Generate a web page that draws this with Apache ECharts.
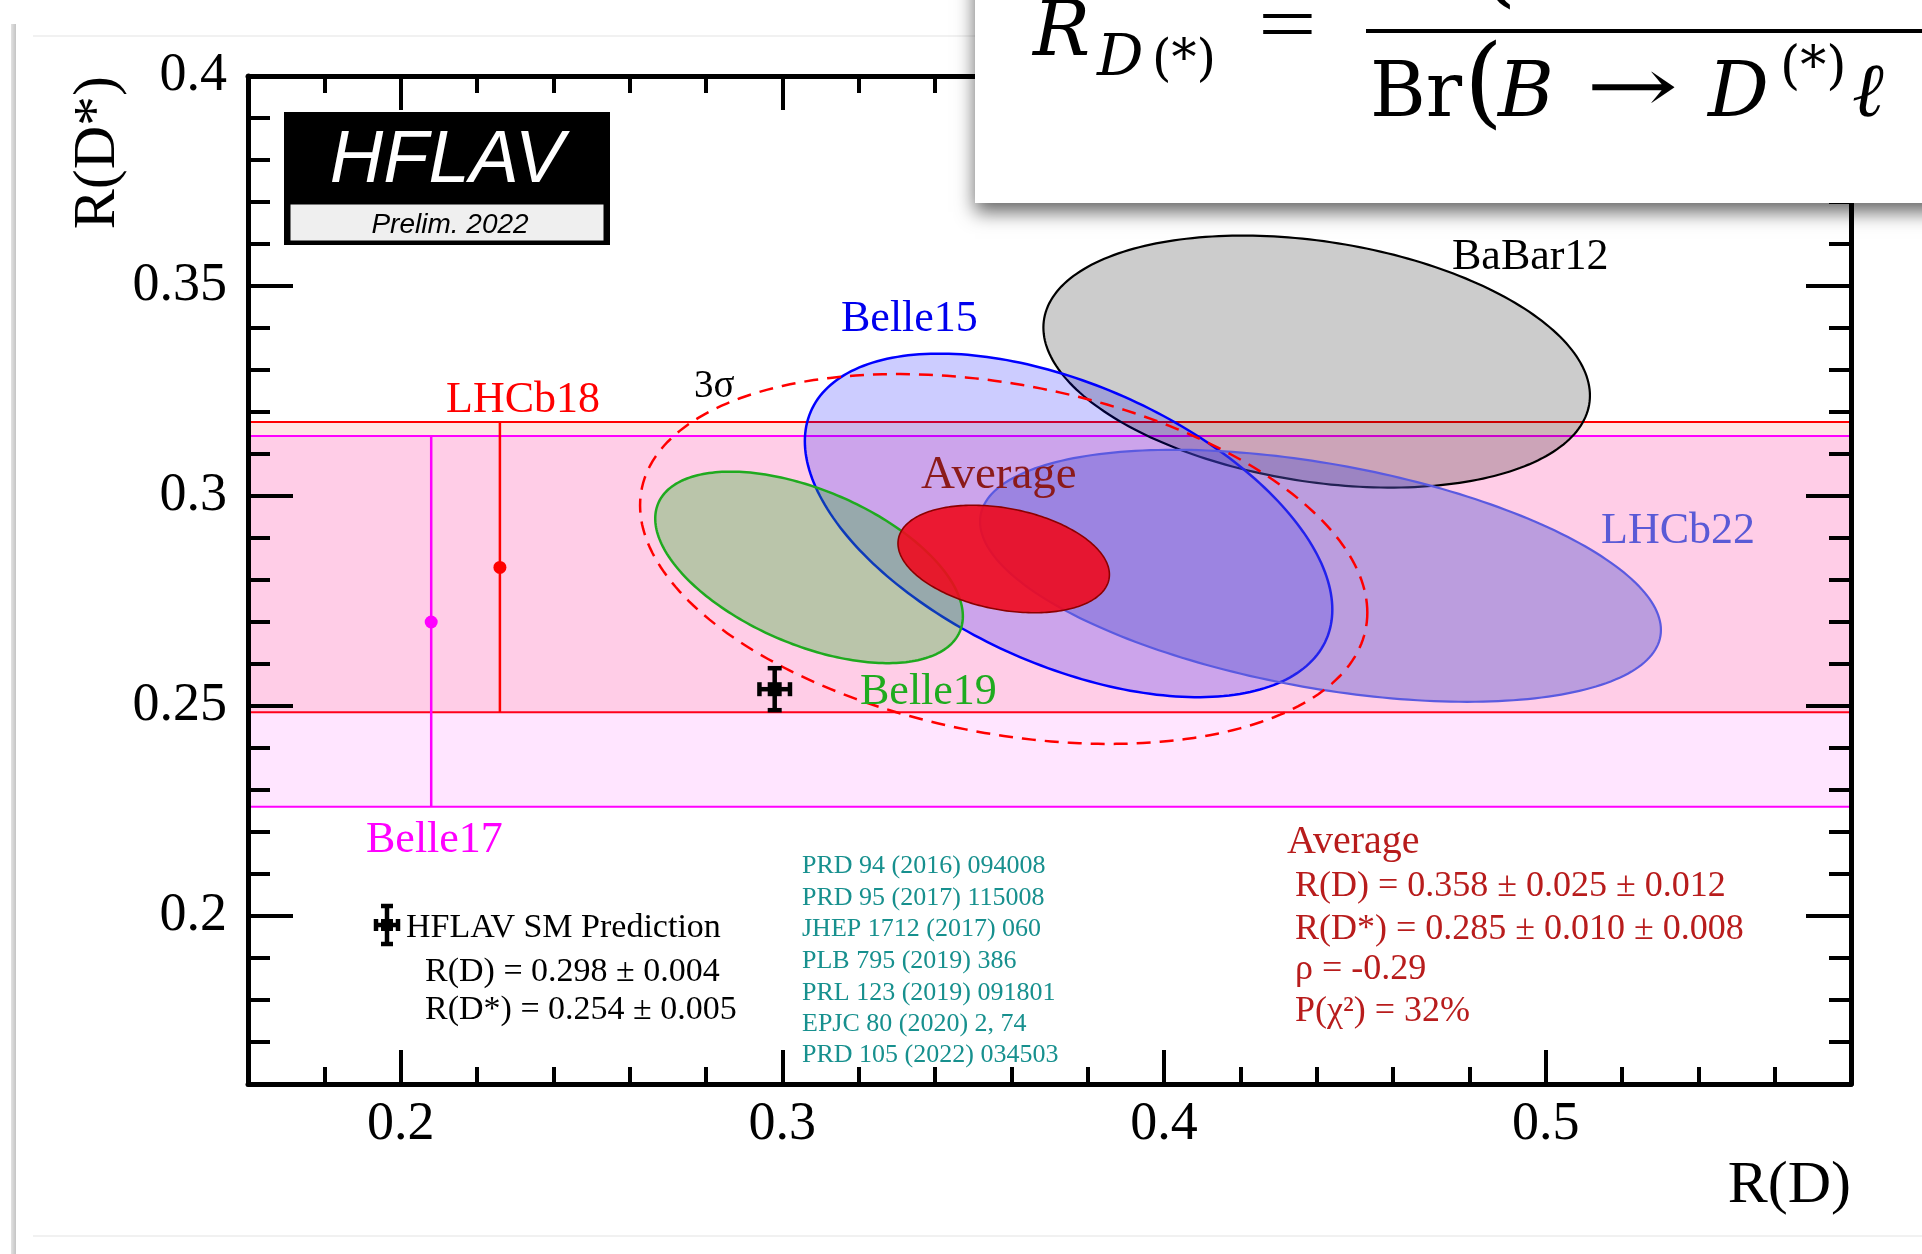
<!DOCTYPE html>
<html><head><meta charset="utf-8">
<script src="https://cdn.jsdelivr.net/npm/echarts@6/dist/echarts.min.js"></script>
<style>html,body{margin:0;padding:0;background:#fff}#c{width:1922px;height:1254px}</style>
</head><body><div id="c"></div>
<script>
// ---------------- data ----------------
const xRange = [0.16, 0.58];
const yRange = [0.16, 0.40];
const xMajorTicks = [0.2, 0.3, 0.4, 0.5];
const yMajorTicks = [0.2, 0.25, 0.3, 0.35, 0.4];

// 2D measurements (Δχ²=1 contours): R(D), R(D*), total sigmas, correlation
const ellipseNames = ['BaBar12', 'Belle15', 'LHCb22', 'Belle19', 'Average'];
const ellipseRD    = [0.440, 0.375, 0.441, 0.307, 0.358];
const ellipseRDs   = [0.332, 0.293, 0.281, 0.283, 0.285];
const ellipseSigRD = [0.0716, 0.0691, 0.0892, 0.0403, 0.0277];
const ellipseSigRDs= [0.0300, 0.0409, 0.0300, 0.0228, 0.0128];
const ellipseRho   = [-0.27, -0.49, -0.43, -0.51, -0.29];
const threeSigmaChi2 = 11.83;   // Δχ² of the dashed 3σ contour of the average

// R(D*)-only measurements (bands)
const bandNames = ['LHCb18', 'Belle17'];
const bandRD    = [0.226, 0.208];     // x position of the marker
const bandVal   = [0.283, 0.270];
const bandLo    = [0.2485, 0.2260];
const bandHi    = [0.3176, 0.3143];

// SM prediction
const smRD = [0.298, 0.004];
const smRDs = [0.254, 0.005];

const refLines = ['PRD 94 (2016) 094008', 'PRD 95 (2017) 115008', 'JHEP 1712 (2017) 060',
  'PLB 795 (2019) 386', 'PRL 123 (2019) 091801', 'EPJC 80 (2020) 2, 74', 'PRD 105 (2022) 034503'];
const avgLines = ['R(D) = 0.358 ± 0.025 ± 0.012', 'R(D*) = 0.285 ± 0.010 ± 0.008', 'ρ = -0.29', 'P(χ²) = 32%'];
const smLines = ['R(D) = 0.298 ± 0.004', 'R(D*) = 0.254 ± 0.005'];

// ---------------- styles ----------------
const SERIF = '"Liberation Serif","DejaVu Serif",serif';
const SANS = '"Liberation Sans",Arial,sans-serif';
const ellipseStyles = [
  { fill: 'rgba(0,0,0,0.2)', stroke: '#000000', lineWidth: 2.2 },
  { fill: 'rgba(0,0,255,0.2)', stroke: '#0000ff', lineWidth: 2.5 },
  { fill: 'rgba(84,84,210,0.4)', stroke: '#5a5ae0', lineWidth: 2.2 },
  { fill: 'rgba(40,180,40,0.32)', stroke: '#1faa1f', lineWidth: 2.5 },
  { fill: 'rgba(238,10,30,0.9)', stroke: '#8b0000', lineWidth: 1.6 }
];
const bandColors = [['rgba(255,0,0,0.1)', '#ff0000'], ['rgba(255,0,255,0.1)', '#ff00ff']];

function ellipseSeries(i, k, style, z) {
  return {
    type: 'custom', coordinateSystem: 'cartesian2d', xAxisIndex: 0, yAxisIndex: 0, z: z,
    data: [[ellipseRD[i], ellipseRDs[i]]], silent: true,
    renderItem: function (params, api) {
      const pts = [];
      const s = Math.sqrt(k), rho = ellipseRho[i];
      for (let j = 0; j <= 240; j++) {
        const t = j / 240 * 2 * Math.PI;
        const u = s * Math.cos(t), v = s * Math.sin(t);
        const x = ellipseRD[i] + ellipseSigRD[i] * u;
        const y = ellipseRDs[i] + ellipseSigRDs[i] * (rho * u + Math.sqrt(1 - rho * rho) * v);
        pts.push(api.coord([x, y]));
      }
      return { type: 'polygon', shape: { points: pts }, style: style };
    }
  };
}

const series = [];
// bands
bandNames.forEach(function (n, i) {
  series.push({
    type: 'custom', coordinateSystem: 'cartesian2d', xAxisIndex: 0, yAxisIndex: 0, z: 2, silent: true,
    data: [[bandRD[i], bandVal[i]]],
    renderItem: function (params, api) {
      const cs = params.coordSys;
      const yt = api.coord([bandRD[i], bandHi[i]])[1];
      const yb = api.coord([bandRD[i], bandLo[i]])[1];
      return { type: 'group', children: [
        { type: 'rect', shape: { x: cs.x, y: yt, width: cs.width, height: yb - yt }, style: { fill: bandColors[i][0] } },
        { type: 'line', shape: { x1: cs.x, y1: yt, x2: cs.x + cs.width, y2: yt }, style: { stroke: bandColors[i][1], lineWidth: 2 } },
        { type: 'line', shape: { x1: cs.x, y1: yb, x2: cs.x + cs.width, y2: yb }, style: { stroke: bandColors[i][1], lineWidth: 2 } }
      ] };
    }
  });
});
// band error bars
bandNames.forEach(function (n, i) {
  series.push({
    type: 'custom', coordinateSystem: 'cartesian2d', xAxisIndex: 0, yAxisIndex: 0, z: 3, silent: true,
    data: [[bandRD[i], bandVal[i]]],
    renderItem: function (params, api) {
      const t = api.coord([bandRD[i], bandHi[i]]);
      const b = api.coord([bandRD[i], bandLo[i]]);
      const c = api.coord([bandRD[i], bandVal[i]]);
      return { type: 'group', children: [
        { type: 'line', shape: { x1: t[0], y1: t[1], x2: b[0], y2: b[1] }, style: { stroke: bandColors[i][1], lineWidth: 2.5 } },
        { type: 'circle', shape: { cx: c[0], cy: c[1], r: 6.5 }, style: { fill: bandColors[i][1] } }
      ] };
    }
  });
});
// ellipses
for (let i = 0; i < ellipseNames.length; i++) series.push(ellipseSeries(i, 1, ellipseStyles[i], 4 + i));
series.push(ellipseSeries(4, threeSigmaChi2, { fill: 'none', stroke: '#ff0000', lineWidth: 2.5, lineDash: [14, 9] }, 10));
// SM prediction
series.push({
  type: 'custom', coordinateSystem: 'cartesian2d', xAxisIndex: 0, yAxisIndex: 0, z: 12, silent: true,
  data: [[smRD[0], smRDs[0]]],
  renderItem: function (params, api) {
    const c = api.coord([smRD[0], smRDs[0]]);
    const l = api.coord([smRD[0] - smRD[1], smRDs[0]]);
    const r = api.coord([smRD[0] + smRD[1], smRDs[0]]);
    const t = api.coord([smRD[0], smRDs[0] + smRDs[1]]);
    const b = api.coord([smRD[0], smRDs[0] - smRDs[1]]);
    const st = { stroke: '#000', lineWidth: 4.5 };
    return { type: 'group', children: [
      { type: 'line', shape: { x1: l[0], y1: l[1], x2: r[0], y2: r[1] }, style: st },
      { type: 'line', shape: { x1: t[0], y1: t[1], x2: b[0], y2: b[1] }, style: st },
      { type: 'line', shape: { x1: l[0], y1: l[1] - 7, x2: l[0], y2: l[1] + 7 }, style: st },
      { type: 'line', shape: { x1: r[0], y1: r[1] - 7, x2: r[0], y2: r[1] + 7 }, style: st },
      { type: 'line', shape: { x1: t[0] - 7, y1: t[1], x2: t[0] + 7, y2: t[1] }, style: st },
      { type: 'line', shape: { x1: b[0] - 7, y1: b[1], x2: b[0] + 7, y2: b[1] }, style: st },
      { type: 'rect', shape: { x: c[0] - 7, y: c[1] - 7, width: 14, height: 14 }, style: { fill: '#000' } }
    ] };
  }
});

// ---------------- axes ----------------
function fmt(v) { return String(+v.toFixed(2)); }
const axisLineStyle = { show: true, onZero: false, lineStyle: { color: '#000', width: 5 } };
function xAx(pos, major) {
  return {
    type: 'value', position: pos, min: xRange[0], max: xRange[1], z: 20,
    interval: major ? undefined : 0.02,
    axisLine: major ? axisLineStyle : { show: false, onZero: false },
    axisTick: major ? { show: true, inside: true, length: 34, lineStyle: { color: '#000', width: 4 }, customValues: xMajorTicks }
                    : { show: true, inside: true, length: 17, lineStyle: { color: '#000', width: 4 } },
    axisLabel: (major && pos === 'bottom') ? { show: true, customValues: xMajorTicks, formatter: fmt, margin: 14,
      fontFamily: SERIF, fontSize: 54, color: '#000' } : { show: false },
    splitLine: { show: false }
  };
}
function yAx(pos, major) {
  return {
    type: 'value', position: pos, min: yRange[0], max: yRange[1], z: 20,
    interval: major ? undefined : 0.01,
    axisLine: major ? axisLineStyle : { show: false, onZero: false },
    axisTick: major ? { show: true, inside: true, length: 45, lineStyle: { color: '#000', width: 4 }, customValues: yMajorTicks }
                    : { show: true, inside: true, length: 22, lineStyle: { color: '#000', width: 4 } },
    axisLabel: (major && pos === 'left') ? { show: true, customValues: yMajorTicks, formatter: fmt, margin: 21,
      fontFamily: SERIF, fontSize: 54, color: '#000' } : { show: false },
    splitLine: { show: false }
  };
}

// ---------------- graphics (text) ----------------
function txt(text, x, base, size, color, o) {
  o = o || {};
  const fam = o.family || SERIF;
  const align = o.align || 'left';
  const el = {
    type: 'text', x: x, y: base - 0.27 * size, z: o.z || 100, silent: true,
    style: { text: text, fill: color, fontSize: size, fontFamily: fam,
      fontStyle: o.italic ? 'italic' : 'normal',
      align: align, textAlign: align, verticalAlign: 'middle', textVerticalAlign: 'middle' }
  };
  if (o.scaleX) el.scaleX = o.scaleX;
  return el;
}

const g = [];
// slide frame decorations
g.push({ type: 'rect', z: 1, silent: true, shape: { x: 11, y: 24, width: 5, height: 1240 },
  style: { fill: new echarts.graphic.LinearGradient(0, 0, 1, 0, [{ offset: 0, color: '#e2e2e2' }, { offset: 1, color: '#c4c4c4' }]) } });
g.push({ type: 'line', z: 1, silent: true, shape: { x1: 33, y1: 36, x2: 975, y2: 36 }, style: { stroke: '#ededed', lineWidth: 1.5 } });
g.push({ type: 'line', z: 1, silent: true, shape: { x1: 33, y1: 1236, x2: 1922, y2: 1236 }, style: { stroke: '#ededed', lineWidth: 1.5 } });

// HFLAV logo
g.push({ type: 'rect', z: 100, silent: true, shape: { x: 284, y: 112, width: 326, height: 133 }, style: { fill: '#000' } });
g.push({ type: 'rect', z: 101, silent: true, shape: { x: 290, y: 204, width: 314, height: 37 }, style: { fill: '#efefef', stroke: '#000', lineWidth: 1 } });
g.push(txt('HFLAV', 447, 181, 74, '#fff', { family: SANS, italic: true, align: 'center', z: 102 }));
g.push(txt('Prelim. 2022', 450, 233, 28, '#000', { family: SANS, italic: true, align: 'center', z: 102 }));

// contour labels
g.push(txt('LHCb18', 446, 412, 44, '#ff0000'));
g.push(txt('Belle17', 366, 852, 44, '#ff00ff'));
g.push(txt('3σ', 694, 397, 39, '#000'));
g.push(txt('Belle15', 841, 331, 44, '#0000ee'));
g.push(txt('BaBar12', 1452, 269, 44, '#000'));
g.push(txt('LHCb22', 1601, 543, 44, '#5a5ad6'));
g.push(txt('Average', 921, 488, 47, '#8b1a1a'));
g.push(txt('Belle19', 860, 704, 44, '#1fab1f'));

// SM legend
(function () {
  const cx = 387, cy = 925, st = { stroke: '#000', lineWidth: 4.5 };
  const parts = [
    { x1: cx - 11, y1: cy, x2: cx + 11, y2: cy }, { x1: cx, y1: cy - 19, x2: cx, y2: cy + 19 },
    { x1: cx - 11, y1: cy - 6, x2: cx - 11, y2: cy + 6 }, { x1: cx + 11, y1: cy - 6, x2: cx + 11, y2: cy + 6 },
    { x1: cx - 6, y1: cy - 19, x2: cx + 6, y2: cy - 19 }, { x1: cx - 6, y1: cy + 19, x2: cx + 6, y2: cy + 19 }
  ];
  parts.forEach(function (p) { g.push({ type: 'line', z: 100, silent: true, shape: p, style: st }); });
  g.push({ type: 'rect', z: 100, silent: true, shape: { x: cx - 6, y: cy - 6, width: 12, height: 12 }, style: { fill: '#000' } });
})();
g.push(txt('HFLAV SM Prediction', 406, 937, 34, '#000'));
smLines.forEach(function (s, i) { g.push(txt(s, 425, [981, 1019][i], 34, '#000')); });

// references
const refBase = [873, 905, 936, 968, 1000, 1031, 1062];
refLines.forEach(function (s, i) { g.push(txt(s, 802, refBase[i], 26, '#17908e')); });

// average block
g.push(txt('Average', 1287, 853, 40, '#b81c1c'));
const avgBase = [896, 939, 979, 1021];
avgLines.forEach(function (s, i) { g.push(txt(s, 1295, avgBase[i], 36, '#b81c1c')); });

// axis titles
g.push(txt('R(D)', 1851, 1202, 60, '#000', { align: 'right' }));
g.push({ type: 'text', x: 98, y: 76, rotation: Math.PI / 2, z: 100, silent: true,
  style: { text: 'R(D*)', fill: '#000', fontSize: 60, fontFamily: SERIF, align: 'right', textAlign: 'right', verticalAlign: 'middle', textVerticalAlign: 'middle' } });

// formula box (top right)
const MATH = '"DejaVu Serif","Liberation Serif",serif';
const LIB = '"Liberation Serif",serif';
g.push({ type: 'rect', z: 200, silent: true, shape: { x: 975, y: -30, width: 1000, height: 233 },
  style: { fill: '#fff', shadowBlur: 18, shadowColor: 'rgba(0,0,0,0.6)', shadowOffsetX: 0, shadowOffsetY: 9 } });
g.push(txt('R', 1033, 56, 76, '#000', { italic: true, z: 210, family: MATH }));
g.push(txt('D', 1097, 76, 58, '#000', { italic: true, z: 210, family: MATH }));
g.push(txt('(*)', 1152, 76, 50, '#000', { z: 210, family: MATH }));
g.push(txt('=', 1258, 52, 80, '#000', { z: 210, scaleX: 1.3, family: LIB }));
g.push({ type: 'rect', z: 210, silent: true, shape: { x: 1366, y: 29, width: 600, height: 4 }, style: { fill: '#000' } });
g.push(txt('(', 1478, -5, 100, '#000', { z: 210, family: MATH }));
g.push(txt('Br', 1370, 117, 76, '#000', { z: 210, family: MATH }));
g.push(txt('(', 1464, 116, 100, '#000', { z: 210, family: MATH }));
g.push(txt('B', 1498, 117, 76, '#000', { italic: true, z: 210, family: MATH }));
g.push(txt('→', 1586, 113, 76, '#000', { z: 210, scaleX: 1.45, family: MATH }));
g.push(txt('D', 1708, 117, 76, '#000', { italic: true, z: 210, family: MATH }));
g.push(txt('(*)', 1780, 84, 52, '#000', { z: 210, family: MATH }));
g.push(txt('ℓ', 1852, 117, 76, '#000', { italic: true, z: 210, family: MATH }));

const chart = echarts.init(document.getElementById('c'), null, { renderer: 'canvas' });
chart.setOption({
  backgroundColor: '#ffffff',
  animation: false,
  grid: { left: 248, right: 71, top: 76, bottom: 170, containLabel: false },
  xAxis: [xAx('bottom', true), xAx('bottom', false), xAx('top', true), xAx('top', false)],
  yAxis: [yAx('left', true), yAx('left', false), yAx('right', true), yAx('right', false)],
  series: series,
  graphic: { elements: g }
});
</script>
</body></html>
